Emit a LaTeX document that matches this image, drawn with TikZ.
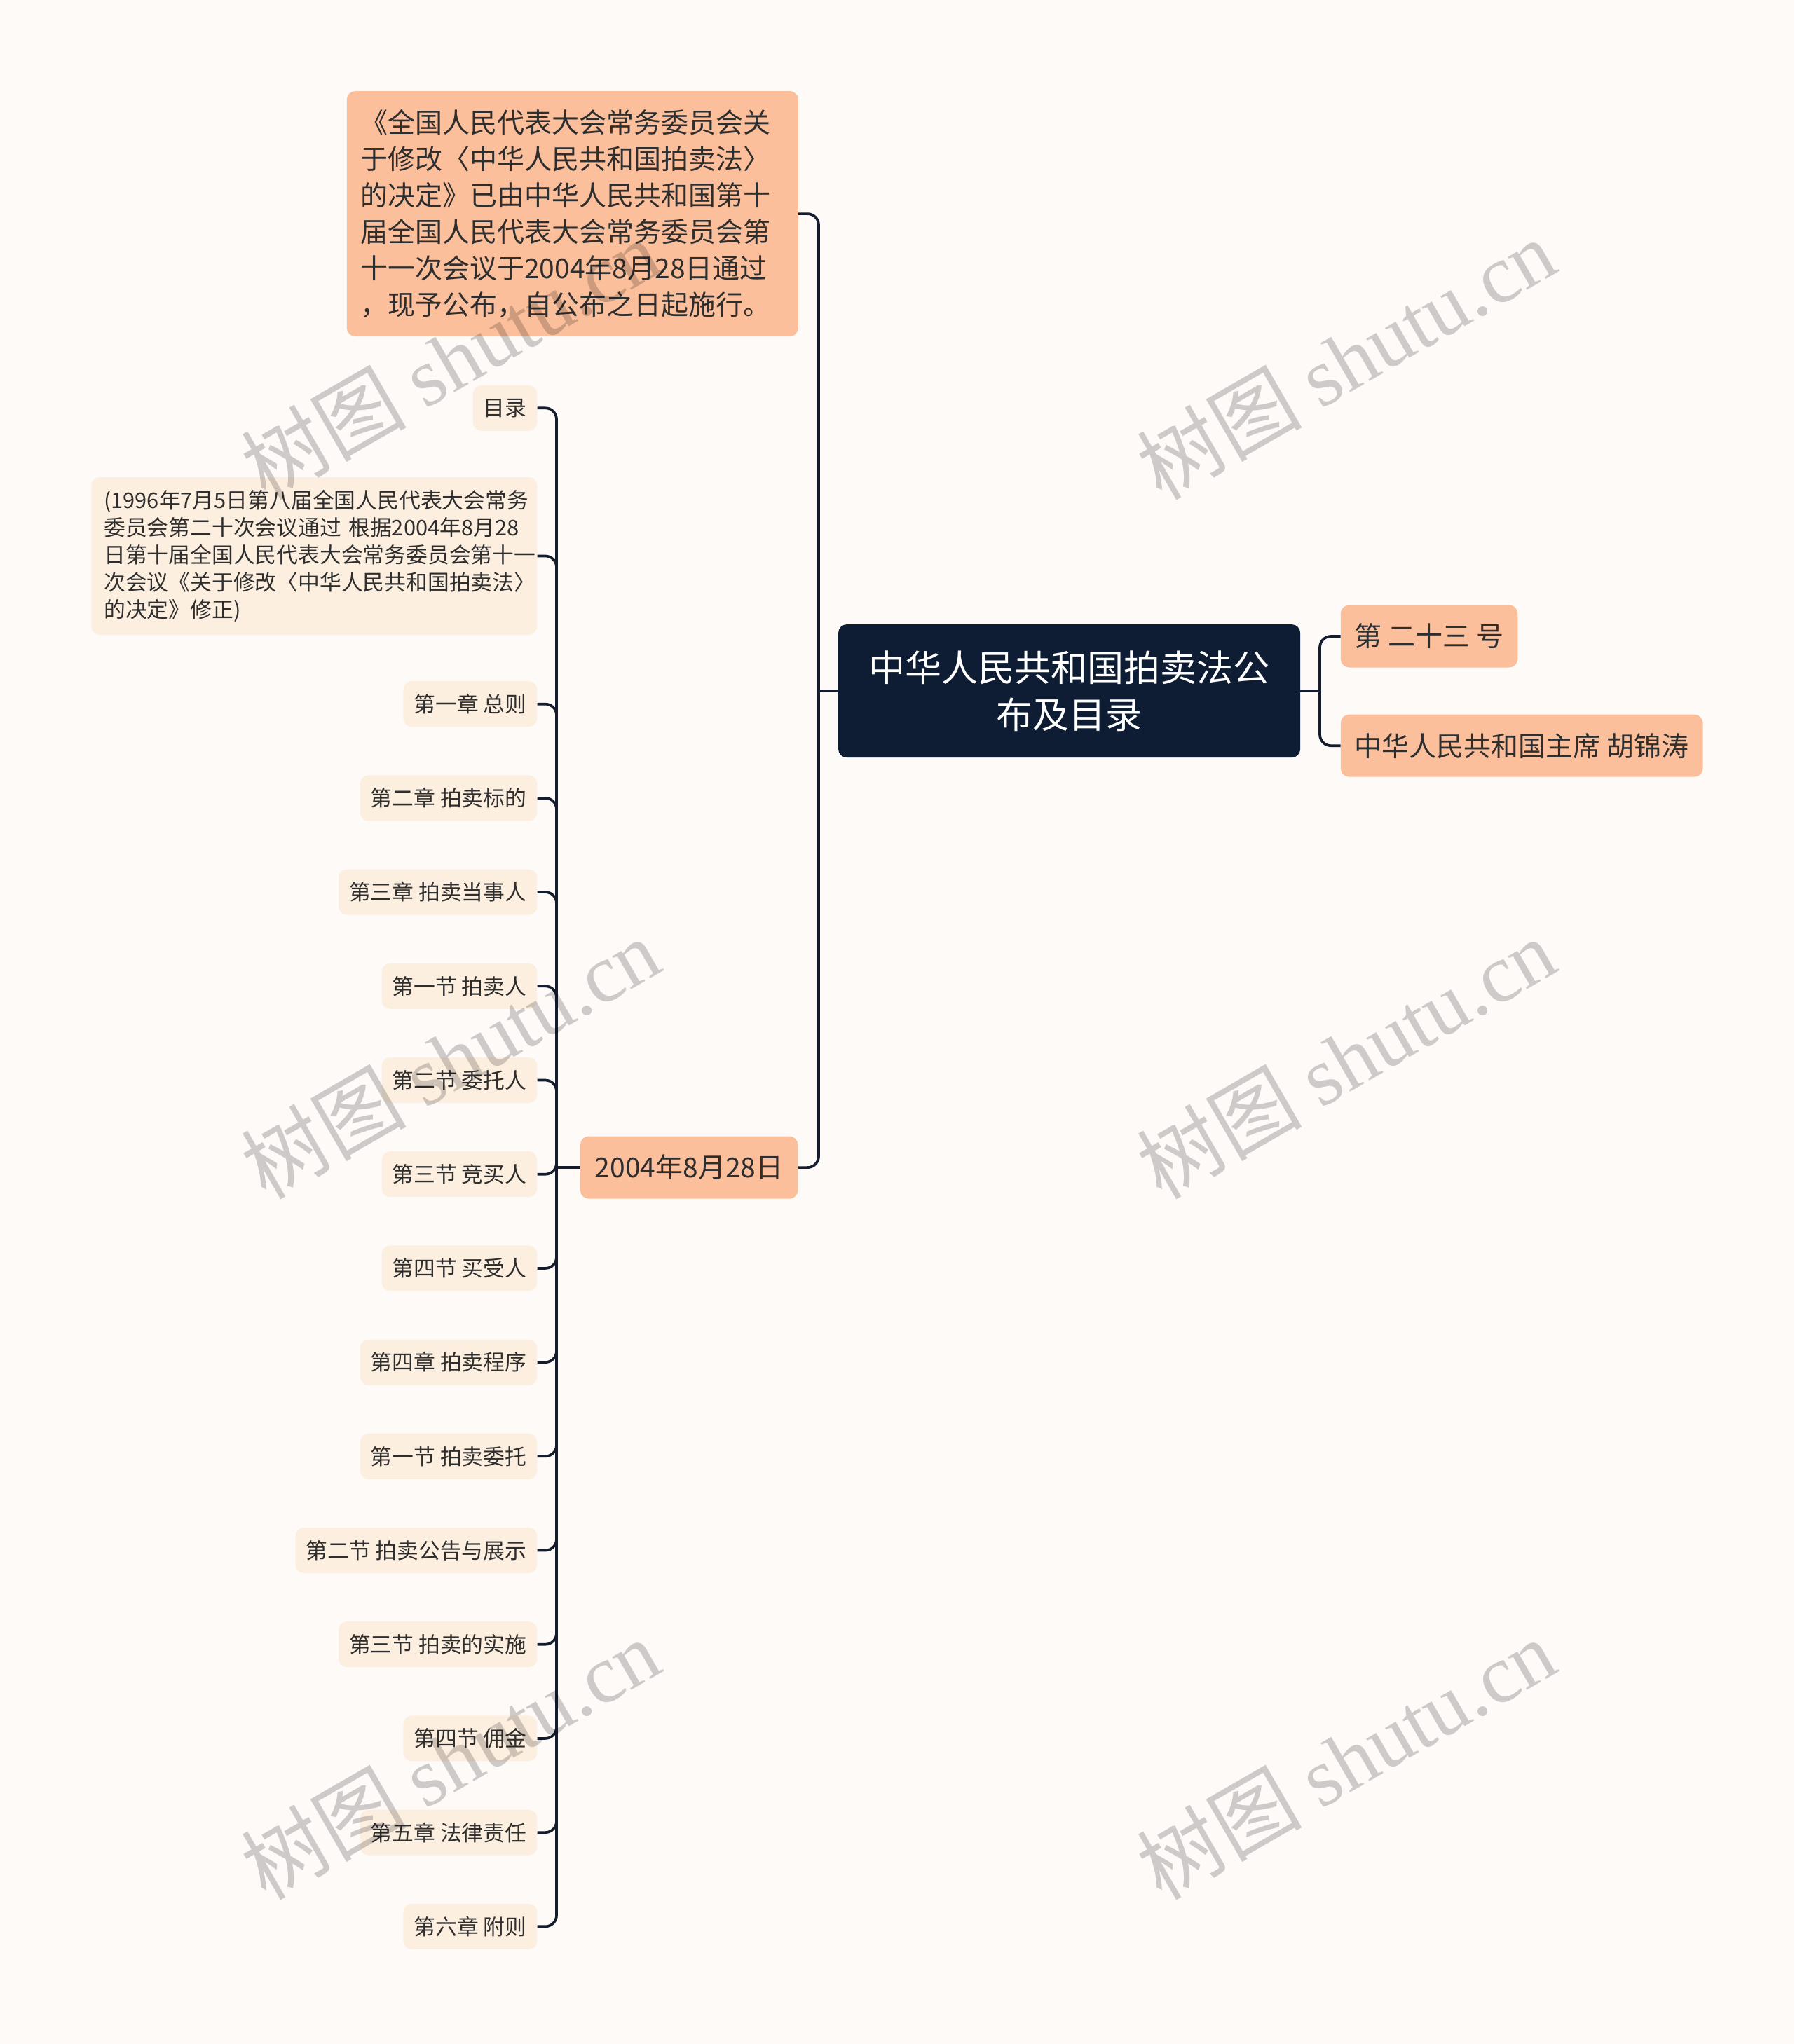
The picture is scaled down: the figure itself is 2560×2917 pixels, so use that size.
\documentclass[tikz,border=0pt]{standalone}
\usepackage{fontspec}
\setmainfont{Noto Sans CJK SC}
\newfontfamily\wmserif{Liberation Serif}
\definecolor{bgc}{HTML}{FDFAF8}
\definecolor{rootc}{HTML}{0E1C34}
\definecolor{peach}{HTML}{FCBF9C}
\definecolor{leafc}{HTML}{FDEFDF}
\definecolor{txt}{HTML}{2E2E2E}
\definecolor{linec}{HTML}{141C2E}
\tikzset{
  leaf/.style={fill=leafc, rounded corners=12pt, text=txt, font=\fontsize{30.8}{39}\selectfont, inner xsep=15pt, inner ysep=4pt, minimum height=65pt, anchor=east},
  lvl/.style={fill=peach, rounded corners=12pt, text=txt, font=\fontsize{39}{52}\selectfont, inner xsep=20pt, inner ysep=4pt, minimum height=89pt},
  conn/.style={draw=linec, line width=3.7pt, rounded corners=16pt},
  wm/.style={text=black, opacity=0.19, font=\fontsize{118}{118}\selectfont, rotate=30, inner sep=0pt}
}
\begin{document}
\begin{tikzpicture}[x=1pt,y=-1pt]
\fill[bgc] (0,0) rectangle (2560,2917);
\useasboundingbox (0,0) rectangle (2560,2917);

% root
\node[fill=rootc, rounded corners=12pt, text=white, font=\fontsize{52}{67}\selectfont, align=center, minimum width=659pt, minimum height=190pt, inner sep=0pt] (root) at (1525.6,986.1) {中华人民共和国拍卖法公\\布及目录};

% right children
\node[lvl, anchor=west] (r1) at (1912.6,908) {第 二十三 号};
\node[lvl, anchor=west] (r2) at (1912.6,1064.2) {中华人民共和国主席 胡锦涛};

% left children
\node[lvl, text width=605pt, inner xsep=19.5pt, minimum height=350pt, align=left] (a) at (816.8,305.1) {《全国人民代表大会常务委员会关\\于修改〈中华人民共和国拍卖法〉\\的决定》已由中华人民共和国第十\\届全国人民代表大会常务委员会第\\十一次会议于2004年8月28日通过\\，现予公布，自公布之日起施行。};
\node[lvl, anchor=east, inner xsep=21pt] (b) at (1138.6,1666.1) {2004年8月28日};

% leaves
\node[leaf] (l1) at (766.5,582.3) {目录};
\node[leaf, text width=600pt, inner xsep=18pt, minimum height=225pt, align=left] (l2) at (766.5,793.5) {(1996年7月5日第八届全国人民代表大会常务\\委员会第二十次会议通过 根据2004年8月28\\日第十届全国人民代表大会常务委员会第十一\\次会议《关于修改〈中华人民共和国拍卖法〉\\的决定》修正)};
\node[leaf] (l3) at (766.5,1004.7) {第一章 总则};
\node[leaf] (l4) at (766.5,1138.9) {第二章 拍卖标的};
\node[leaf] (l5) at (766.5,1273.1) {第三章 拍卖当事人};
\node[leaf] (l6) at (766.5,1407.3) {第一节 拍卖人};
\node[leaf] (l7) at (766.5,1541.5) {第二节 委托人};
\node[leaf] (l8) at (766.5,1675.7) {第三节 竞买人};
\node[leaf] (l9) at (766.5,1809.9) {第四节 买受人};
\node[leaf] (l10) at (766.5,1944.1) {第四章 拍卖程序};
\node[leaf] (l11) at (766.5,2078.3) {第一节 拍卖委托};
\node[leaf] (l12) at (766.5,2212.5) {第二节 拍卖公告与展示};
\node[leaf] (l13) at (766.5,2346.7) {第三节 拍卖的实施};
\node[leaf] (l14) at (766.5,2480.9) {第四节 佣金};
\node[leaf] (l15) at (766.5,2615.1) {第五章 法律责任};
\node[leaf] (l16) at (766.5,2749.3) {第六章 附则};

% connectors root -> right
\coordinate (rj) at (1883,986.1);
\draw[conn] (root.east) -- (rj);
\draw[conn] (r1.west) -| (rj) |- (r2.west);
% root -> left
\coordinate (lj) at (1168,986.1);
\draw[conn] (root.west) -- (lj);
\draw[conn] (a.east) -| (lj) |- (b.east);
% b -> leaves
\coordinate (bj) at (794,1666.1);
\draw[conn] (b.west) -- (bj);
\draw[conn] (l1.east) -| (bj) |- (l16.east);
\foreach \n in {l2,l3,l4,l5,l6,l7}{
  \draw[conn] (\n.east) -| ([yshift=-40pt]bj |- \n.east);
}
\foreach \n in {l8,l9,l10,l11,l12,l13,l14,l15}{
  \draw[conn] (\n.east) -| ([yshift=40pt]bj |- \n.east);
}

% watermarks
\foreach \p in {(642,512),(1920,512),(642,1510),(1920,1510),(642,2510),(1920,2510)}{
  \node[wm] at \p {树图 {\wmserif shutu.cn}};
}
\end{tikzpicture}
\end{document}
